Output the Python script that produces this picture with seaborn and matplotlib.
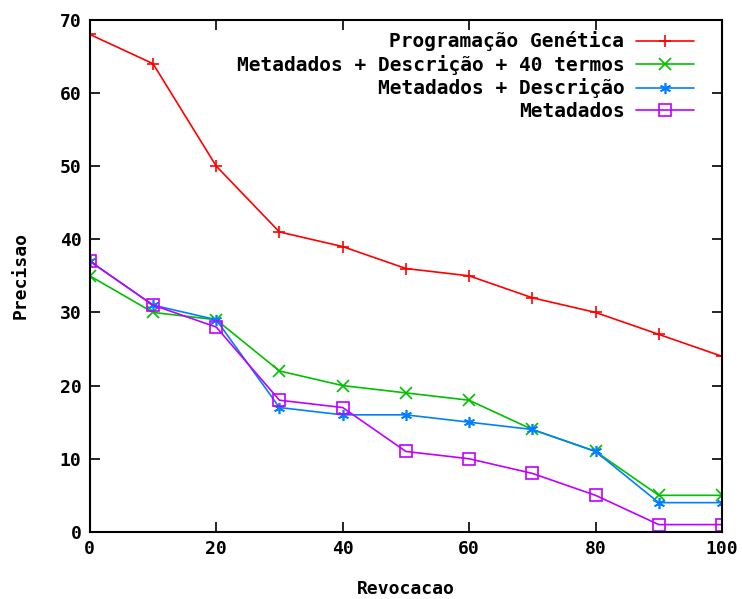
import pandas as pd
import matplotlib
matplotlib.use("Agg")
import matplotlib.pyplot as plt
import seaborn as sns

# === DATA ===
revocacao = [0, 10, 20, 30, 40, 50, 60, 70, 80, 90, 100]
prog_genetica = [68, 64, 50, 41, 39, 36, 35, 32, 30, 27, 24]
meta_desc_40 = [35, 30, 29, 22, 20, 19, 18, 14, 11, 5, 5]
meta_desc = [37, 31, 29, 17, 16, 16, 15, 14, 11, 4, 4]
metadados = [37, 31, 28, 18, 17, 11, 10, 8, 5, 1, 1]

series = [
    ("Programação Genética", prog_genetica, "#ff0000", "+"),
    ("Metadados + Descrição + 40 termos", meta_desc_40, "#00c000", "x"),
    ("Metadados + Descrição", meta_desc, "#0080ff", (6, 2, 0)),
    ("Metadados", metadados, "#c000ff", "s"),
]

sns.set_style("ticks")
plt.rcParams['font.family'] = ['DejaVu Sans Mono']
plt.rcParams['font.weight'] = 'bold'
plt.rcParams['text.color'] = 'black'
plt.rcParams['axes.labelcolor'] = 'black'
plt.rcParams['xtick.color'] = 'black'
plt.rcParams['ytick.color'] = 'black'

fig = plt.figure(figsize=(7.42, 5.99), dpi=100)
ax = fig.add_axes([0.121, 0.112, 0.852, 0.855])

for name, vals, color, marker in series:
    df = pd.DataFrame({"Revocacao": revocacao, "Precisao": vals})
    sns.lineplot(data=df, x="Revocacao", y="Precisao", ax=ax, color=color,
                 marker=marker, markersize=8, linewidth=1.2, label=name,
                 markerfacecolor="none", markeredgecolor=color, markeredgewidth=1.2)

ax.set_xlim(0, 100)
ax.set_ylim(0, 70)
ax.set_xticks(range(0, 101, 20))
ax.set_yticks(range(0, 71, 10))
ax.tick_params(direction="in", top=True, right=True, length=7, width=1.2,
               labelsize=13, pad=6)
for sp in ax.spines.values():
    sp.set_linewidth(1.5)
    sp.set_color("black")
ax.set_xlabel("Revocacao", fontsize=13, fontweight="bold", labelpad=16)
ax.set_ylabel("Precisao", fontsize=13, fontweight="bold", labelpad=22)

leg = ax.legend(loc="upper right", frameon=False, markerfirst=False, fontsize=14,
                handlelength=3.0, labelspacing=0.18, borderaxespad=0.2,
                handletextpad=0.6, bbox_to_anchor=(0.975, 1.0))
for t in leg.get_texts():
    t.set_ha("right")
    t.set_fontweight("bold")

plt.savefig("out.png", dpi=100)
